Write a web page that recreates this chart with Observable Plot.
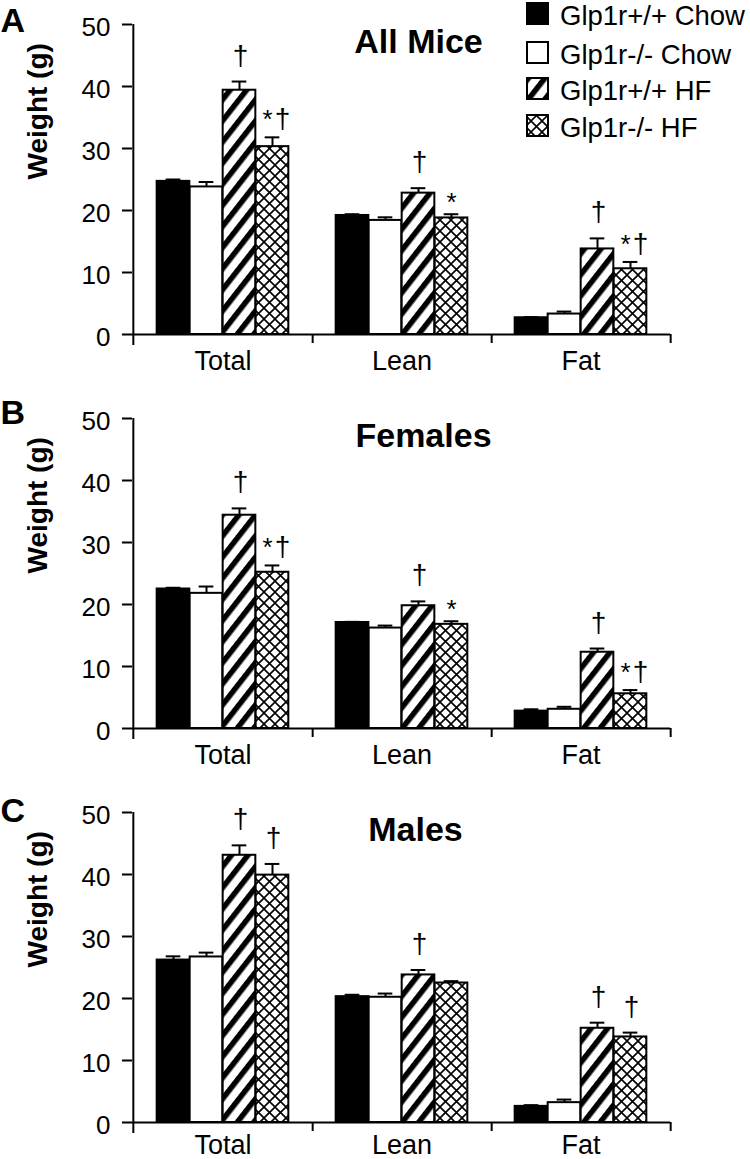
<!DOCTYPE html>
<html><head><meta charset="utf-8">
<script src="https://cdn.jsdelivr.net/npm/d3@7"></script>
<script src="https://cdn.jsdelivr.net/npm/@observablehq/plot@0.6"></script>
<style>
body{margin:0;background:#fff;}
#wrap{position:relative;width:750px;height:1159px;overflow:hidden;font-family:"Liberation Sans",Arial,sans-serif;background:#fff;}
.panel{position:absolute;left:0;width:750px;}
#legend{position:absolute;left:520px;top:0;}
</style></head><body><div id="wrap"></div>
<script>
const categories = ["Total", "Lean", "Fat"];
const groups = ["Glp1r+/+ Chow", "Glp1r-/- Chow", "Glp1r+/+ HF", "Glp1r-/- HF"];
const yTicks = [0, 10, 20, 30, 40, 50];
const panelLetters = ["A", "B", "C"];
const panelTitles = ["All Mice", "Females", "Males"];

// rows: groups, columns: categories (Total, Lean, Fat)
const allMiceMeans = [[24.7, 19.2, 2.7], [23.8, 18.4, 3.3], [39.4, 22.8, 13.8], [30.3, 18.8, 10.6]];
const allMiceSem   = [[0.3, 0.2, 0.1], [0.8, 0.5, 0.4], [1.4, 0.8, 1.7], [1.5, 0.6, 1.1]];
const allMiceNotes = [["", "", ""], ["", "", ""], ["†", "†", "†"], ["*†", "*", "*†"]];

const femalesMeans = [[22.5, 17.1, 2.8], [21.8, 16.2, 3.1], [34.4, 19.8, 12.3], [25.2, 16.8, 5.6]];
const femalesSem   = [[0.2, 0.1, 0.3], [1.1, 0.4, 0.4], [1.1, 0.7, 0.6], [1.1, 0.5, 0.6]];
const femalesNotes = [["", "", ""], ["", "", ""], ["†", "†", "†"], ["*†", "*", "*†"]];

const malesMeans = [[26.2, 20.3, 2.6], [26.7, 20.2, 3.2], [43.1, 23.8, 15.2], [39.9, 22.5, 13.8]];
const malesSem   = [[0.6, 0.3, 0.2], [0.7, 0.6, 0.5], [1.6, 0.8, 0.9], [1.8, 0.3, 0.7]];
const malesNotes = [["", "", ""], ["", "", ""], ["†", "†", "†"], ["†", "", "†"]];

// ---- layout / style ----
const W = 750, ML = 132, MR = 80, MT = 24, PLOT_H = 310;
const panelTop = [0, 394, 788];
const panelMB = [60, 60, 37];
const letterDy = [7, 5, 9];
const titleDx = [17, 22, 14];
const titleDy = [28, 28.5, 28];
const xLabelDy = [16, 16, 12];
const FONT = "Liberation Sans, Arial, Helvetica, sans-serif";
const bw = (W - ML - MR) / categories.length;
const barW = 33;
const outer = (bw - barW * groups.length) / 2;

function addDefs(svg, id) {
  const defs = d3.select(svg).insert("defs", ":first-child");
  const h = defs.append("pattern").attr("id", "hatch-" + id)
    .attr("patternUnits", "userSpaceOnUse").attr("width", 13).attr("height", 13)
    .attr("patternTransform", "rotate(38)");
  h.append("rect").attr("width", 13).attr("height", 13).attr("fill", "white");
  h.append("rect").attr("width", 5.5).attr("height", 13).attr("fill", "black");
  const c = defs.append("pattern").attr("id", "cross-" + id)
    .attr("patternUnits", "userSpaceOnUse").attr("width", 11).attr("height", 11);
  c.append("rect").attr("width", 11).attr("height", 11).attr("fill", "white");
  c.append("path").attr("d", "M0,0L11,11M11,0L0,11").attr("stroke", "black").attr("stroke-width", 1.6);
}

function fills(id) {
  return ["black", "white", `url(#hatch-${id})`, `url(#cross-${id})`];
}

// significance glyph placement (style): [glyph, dx from bar centre, dy from error top, font size]
const notePlacement = {
  "†": [["†", 1, -17, 28]],
  "*": [["*", 0, -3, 26]],
  "*†": [["*", -5, -9, 26], ["†", 10, -9, 28]]
};

function makePanel(p, means, sems, notes) {
  const id = panelLetters[p];
  const H = MT + PLOT_H + panelMB[p];
  const rows = [];
  groups.forEach((g, gi) => categories.forEach((c, ci) => {
    rows.push({group: g, gi, category: c, mean: means[gi][ci], sem: sems[gi][ci], note: notes[gi][ci]});
  }));
  const fl = fills(id);
  const marks = [];
  groups.forEach((g, gi) => {
    const data = rows.filter(d => d.gi === gi);
    const left = outer + gi * barW;
    const cx = left + barW / 2;
    const dxc = cx - bw / 2;
    marks.push(Plot.barY(data, {
      x: "category", y: "mean", fill: fl[gi], stroke: "black", strokeWidth: 2,
      insetLeft: left, insetRight: bw - left - barW
    }));
    marks.push(Plot.ruleX(data, {
      x: "category", y1: "mean", y2: d => d.mean + d.sem, dx: dxc, stroke: "black", strokeWidth: 2
    }));
    marks.push(Plot.tickY(data, {
      x: "category", y: d => d.mean + d.sem, stroke: "black", strokeWidth: 2,
      insetLeft: cx - 7.5, insetRight: bw - cx - 7.5
    }));
    for (const [k, parts] of Object.entries(notePlacement)) {
      const nd = data.filter(d => d.note === k);
      if (!nd.length) continue;
      for (const [glyph, ddx, ddy, fs] of parts) {
        marks.push(Plot.text(nd, {
          x: "category", y: d => d.mean + d.sem, text: () => glyph, dx: dxc + ddx, dy: ddy,
          lineAnchor: "bottom", fontSize: fs, fill: "black"
        }));
      }
    }
  });
  // axes
  marks.push(Plot.ruleY([0], {stroke: "black", strokeWidth: 2}));
  marks.push(Plot.ruleX([categories[0]], {x: d => d, dx: -bw / 2, insetBottom: -11, stroke: "black", strokeWidth: 2}));
  marks.push(Plot.ruleX(categories, {x: d => d, dx: bw / 2, insetTop: PLOT_H, insetBottom: -9, stroke: "black", strokeWidth: 2}));
  marks.push(Plot.ruleY(yTicks, {y: d => d, insetLeft: -10, insetRight: W - ML - MR, stroke: "black", strokeWidth: 2}));
  marks.push(Plot.text(yTicks, {y: d => d, text: d => String(d), frameAnchor: "left", dx: -22, dy: 3, textAnchor: "end", lineAnchor: "middle", fontSize: 26, fill: "black"}));
  marks.push(Plot.text(categories, {x: d => d, text: d => d, frameAnchor: "bottom", dy: xLabelDy[p], lineAnchor: "top", fontSize: 27, fill: "black"}));
  // labels
  marks.push(Plot.text(["Weight (g)"], {text: d => d, frameAnchor: "left", rotate: -90, dx: -94, lineAnchor: "middle", fontWeight: "bold", fontSize: 28}));
  marks.push(Plot.text([panelTitles[p]], {text: d => d, frameAnchor: "top", dx: titleDx[p], dy: titleDy[p], lineAnchor: "bottom", fontWeight: "bold", fontSize: 34}));
  marks.push(Plot.text([panelLetters[p]], {text: d => d, frameAnchor: "top-left", dx: -ML, dy: letterDy[p], textAnchor: "start", lineAnchor: "bottom", fontWeight: "bold", fontSize: 34}));

  const svg = Plot.plot({
    width: W, height: H,
    marginLeft: ML, marginRight: MR, marginTop: MT, marginBottom: panelMB[p],
    x: {type: "band", domain: categories, padding: 0, axis: null},
    y: {domain: [0, 50], axis: null},
    style: {fontFamily: FONT, fontSize: "26px", color: "black", background: "white", overflow: "visible"},
    marks
  });
  addDefs(svg, id);
  const div = document.createElement("div");
  div.className = "panel";
  div.style.top = panelTop[p] + "px";
  div.appendChild(svg);
  document.getElementById("wrap").appendChild(div);
}

makePanel(0, allMiceMeans, allMiceSem, allMiceNotes);
makePanel(1, femalesMeans, femalesSem, femalesNotes);
makePanel(2, malesMeans, malesSem, malesNotes);

// legend
const legRowTop = [3, 42, 78, 115];
const lsvg = d3.create("svg").attr("width", 235).attr("height", 145)
  .style("font-family", FONT).style("overflow", "visible");
addDefs(lsvg.node(), "L");
const lf = fills("L");
groups.forEach((g, i) => {
  lsvg.append("rect").attr("x", 7).attr("y", legRowTop[i]).attr("width", 21).attr("height", 21)
    .attr("fill", lf[i]).attr("stroke", "black").attr("stroke-width", 2);
  lsvg.append("text").attr("x", 40).attr("y", legRowTop[i] + 22).attr("font-size", 27.5).attr("fill", "black").text(g);
});
const leg = document.createElement("div");
leg.id = "legend";
leg.appendChild(lsvg.node());
document.getElementById("wrap").appendChild(leg);
</script></body></html>
